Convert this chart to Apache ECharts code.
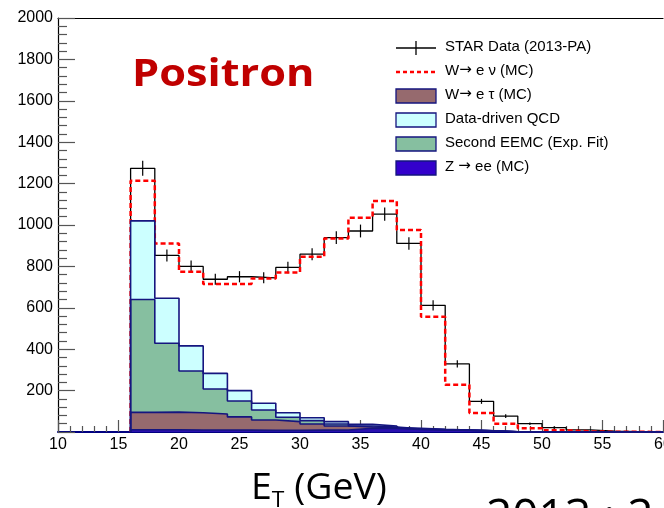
<!DOCTYPE html>
<html>
<head>
<meta charset="utf-8">
<script src="https://cdn.jsdelivr.net/npm/echarts@6/dist/echarts.min.js"></script>
<style>
html,body{margin:0;padding:0;background:#fff;overflow:hidden;width:664px;height:508px;}
#c{width:664px;height:508px;overflow:hidden;}
</style>
</head>
<body>
<div id="c"></div>
<script>
// ---- data (bins of 2 GeV, low edges) ----
const binLow = [16,18,20,22,24,26,28,30,32,34,36,38,40,42,44,46,48,50,52,54,56,58];
const binW = 2;
const starData = [1274,853,800,738,750,745,795,859,939,971,1053,911,612,329,148,77,40,21,10,4,2,1];
const starErr  = [36,29,28,27,27,27,28,29,31,31,32,30,25,18,12,9,6,5,3,2,1,1];
const wenu     = [1214,911,774,715,715,742,771,847,935,1035,1116,976,557,228,92,40,18,8,3,1,1,0];
const zee      = [11,11,10,10,9,8,8,9,10,18,17,12,10,8,6,1,0,0,0,0,0,0];
const wtau     = [84,85,83,77,64,50,42,30,19,6,4,2,1,1,0,0,0,0,0,0,0,0];
const eemc     = [545,333,202,121,77,48,21,16,10,5,3,2,1,0,0,0,0,0,0,0,0,0];
const qcd      = [380,217,121,75,50,33,22,14,11,8,5,2,1,0,0,0,0,0,0,0,0,0];
const xTicks = [10,15,20,25,30,35,40,45,50,55,60];
const yTicks = [200,400,600,800,1000,1200,1400,1600,1800,2000];

// legend labels: [before arrow, arrow, after arrow]
const legendParts = [
  ['STAR Data (2013-PA)', '', ''],
  ['W', '\u2192', ' e \u03bd (MC)'],
  ['W', '\u2192', ' e \u03c4 (MC)'],
  ['Data-driven QCD', '', ''],
  ['Second EEMC (Exp. Fit)', '', ''],
  ['Z ', '\u2192', ' ee (MC)']
];
const legendNames = legendParts.map(p => p.join(''));

// cumulative stack tops
const sum = (arrs) => binLow.map((_, i) => arrs.reduce((s, a) => s + a[i], 0));
const topZ = sum([zee]);
const topTau = sum([zee, wtau]);
const topEemc = sum([zee, wtau, eemc]);
const topQcd = sum([zee, wtau, eemc, qcd]);

function stepPts(vals) {
  const p = [[binLow[0], 0]];
  vals.forEach((v, i) => { p.push([binLow[i], v]); p.push([binLow[i] + binW, v]); });
  p.push([binLow[binLow.length - 1] + binW, 0]);
  return p;
}

const navy = '#15157f';
const chart = echarts.init(document.getElementById('c'), null, {renderer: 'canvas', width: 664, height: 508});

function areaSeries(name, vals, fill) {
  return {
    name: name, type: 'line', data: stepPts(vals), symbol: 'none', animation: false,
    lineStyle: {color: navy, width: 1.6},
    areaStyle: {color: fill, opacity: 1},
    z: 3
  };
}

const font = '"Liberation Sans", Arial, Helvetica, sans-serif';
const legX = 396, legTextX = 445, legY = [48, 72, 96, 120, 144, 168];
const boxFills = [null, null, '#966a6e', '#ccffff', '#86bfa0', '#3300cc'];
const legendGraphics = [];
legendParts.forEach((parts, i) => {
  const esc = s => s.replace(/[{}|]/g, '');
  let txt = '{t|' + esc(parts[0]) + '}';
  if (parts[1]) txt += '{ar|' + parts[1] + '}{t|' + esc(parts[2]) + '}';
  legendGraphics.push({type: 'text', left: legTextX, top: legY[i] - 9,
    style: {text: txt, rich: {
      t: {fontSize: 15, fontFamily: font, fill: '#000'},
      ar: {fontSize: 15, fontFamily: '"DejaVu Sans", sans-serif', fill: '#000'}
    }}});
  if (i === 0) {
    legendGraphics.push({type: 'line', shape: {x1: legX, y1: legY[i], x2: legX + 40, y2: legY[i]}, style: {stroke: '#000', lineWidth: 1.3}});
    legendGraphics.push({type: 'line', shape: {x1: legX + 20, y1: legY[i] - 7, x2: legX + 20, y2: legY[i] + 7}, style: {stroke: '#000', lineWidth: 1.3}});
  } else if (i === 1) {
    legendGraphics.push({type: 'line', shape: {x1: legX, y1: legY[i], x2: legX + 40, y2: legY[i]}, style: {stroke: '#ff0000', lineWidth: 2.5, lineDash: [4, 3]}});
  } else {
    legendGraphics.push({type: 'rect', shape: {x: legX, y: legY[i] - 7, width: 40, height: 14}, style: {fill: boxFills[i], stroke: navy, lineWidth: 1.3}});
  }
});

const option = {
  animation: false,
  backgroundColor: '#fff',
  grid: {left: 58, right: 1, top: 18, bottom: 76, containLabel: false, outerBoundsMode: 'none'},
  xAxis: [{
    type: 'value', min: 10, max: 60, interval: 5,
    axisLine: {show: true, lineStyle: {color: '#000080', width: 2}},
    axisTick: {show: true, inside: true, length: 12, lineStyle: {color: '#555', width: 1.2}},
    minorTick: {show: true, splitNumber: 5, length: 6, lineStyle: {color: '#555', width: 1.2}},
    axisLabel: {color: '#000', fontSize: 16, fontFamily: font, margin: 5,
      formatter: v => xTicks.includes(v) ? String(v) : ''},
    splitLine: {show: false}
  }, {
    type: 'value', min: 10, max: 60, position: 'top',
    axisLine: {show: true, lineStyle: {color: '#000', width: 1.2}},
    axisTick: {show: false}, axisLabel: {show: false}, splitLine: {show: false}
  }],
  yAxis: {
    type: 'value', min: 0, max: 2000, interval: 200,
    axisLine: {show: true, lineStyle: {color: '#000', width: 1.2}},
    axisTick: {show: true, inside: true, length: 17, lineStyle: {color: '#555', width: 1.2}},
    minorTick: {show: true, splitNumber: 5, length: 9, lineStyle: {color: '#555', width: 1.2}},
    axisLabel: {color: '#000', fontSize: 16, fontFamily: font, margin: 5,
      formatter: v => yTicks.includes(v) ? String(v) : ''},
    splitLine: {show: false}
  },
  series: [
    {name: legendNames[0], type: 'line', data: stepPts(starData), symbol: 'none',
      lineStyle: {color: '#000', width: 1.3}, z: 2},
    {name: legendNames[0] + ' err', type: 'custom', z: 2,
      data: binLow.map((b, i) => [b + binW / 2, starData[i], starErr[i]]),
      renderItem: (params, api) => {
        const x = api.value(0), y = api.value(1), e = api.value(2);
        const p1 = api.coord([x, y - e]), p2 = api.coord([x, y + e]);
        return {type: 'line', shape: {x1: p1[0], y1: p1[1], x2: p2[0], y2: p2[1]},
          style: {stroke: '#000', lineWidth: 1.2}};
      }},
    {name: legendNames[1], type: 'line', data: stepPts(wenu), symbol: 'none',
      lineStyle: {color: '#ff0000', width: 2.5, type: [5, 3]}, z: 2},
    areaSeries(legendNames[3], topQcd, '#ccffff'),
    areaSeries(legendNames[4], topEemc, '#86bfa0'),
    areaSeries(legendNames[2], topTau, '#966a6e'),
    areaSeries(legendNames[5], topZ, '#2a10b0')
  ],
  graphic: legendGraphics.concat([
    {type: 'text', x: 132, y: 57, scaleX: 1.17,
      style: {text: 'Positron', font: 'bold 37px "Open Sans", sans-serif', fill: '#c00000'}},
    {type: 'text', x: 251, y: 466, scaleX: 1.04,
      style: {rich: {
        a: {fontSize: 36, fontFamily: '"Open Sans", sans-serif', fill: '#000'},
        s: {fontSize: 22, fontFamily: '"Open Sans", sans-serif', fill: '#000', verticalAlign: 'bottom', padding: [24, 0, 0, 0]}
      }, text: '{a|E}{s|T}{a| (GeV)}'}},
    {type: 'text', x: 486, y: 496,
      style: {text: '2013 : 2', font: '46px "Open Sans", sans-serif', fill: '#000'}}
  ])
};
chart.setOption(option);
</script>
</body>
</html>
